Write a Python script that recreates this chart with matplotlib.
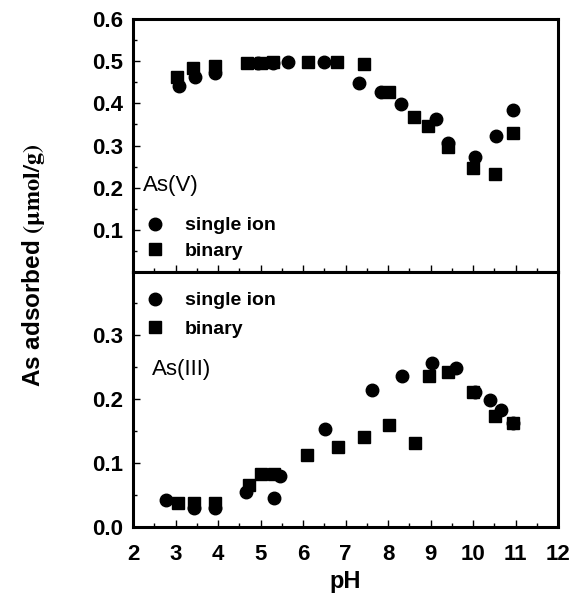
import numpy as np
import matplotlib
matplotlib.use("Agg")
from matplotlib import pyplot as plt
from matplotlib.ticker import MultipleLocator

plt.rcParams['font.family'] = ['Liberation Sans', 'DejaVu Sans']
plt.rcParams['mathtext.fontset'] = 'stix'

# As(V) panel
asv_single_ph = [3.09, 3.47, 3.94, 4.95, 5.3, 5.64, 6.49, 7.32, 7.84, 8.31, 9.14, 9.4, 10.04, 10.53, 10.93]
asv_single_q = [0.441, 0.463, 0.473, 0.496, 0.496, 0.498, 0.497, 0.448, 0.427, 0.398, 0.363, 0.305, 0.273, 0.323, 0.384]
asv_binary_ph = [3.03, 3.42, 3.94, 4.69, 5.0, 5.29, 6.11, 6.8, 7.44, 8.03, 8.62, 8.95, 9.4, 9.99, 10.51, 10.93]
asv_binary_q = [0.463, 0.484, 0.489, 0.495, 0.496, 0.497, 0.498, 0.497, 0.493, 0.427, 0.368, 0.346, 0.297, 0.247, 0.232, 0.33]

# As(III) panel
as3_single_ph = [2.78, 3.44, 3.94, 4.67, 5.31, 5.47, 6.52, 7.62, 8.34, 9.04, 9.61, 10.05, 10.39, 10.65, 10.94]
as3_single_q = [0.042, 0.03, 0.03, 0.055, 0.045, 0.08, 0.153, 0.214, 0.235, 0.256, 0.248, 0.21, 0.198, 0.183, 0.163]
as3_binary_ph = [3.06, 3.44, 3.94, 4.72, 5.0, 5.31, 6.1, 6.83, 7.44, 8.03, 8.64, 8.97, 9.4, 10.01, 10.51, 10.94]
as3_binary_q = [0.037, 0.037, 0.038, 0.066, 0.083, 0.083, 0.112, 0.125, 0.14, 0.159, 0.131, 0.236, 0.242, 0.211, 0.173, 0.163]

x_ticks = list(range(2, 13))
top_yticks = [0.1, 0.2, 0.3, 0.4, 0.5, 0.6]
bot_yticks = [0.0, 0.1, 0.2, 0.3]

fig = plt.figure(figsize=(5.74, 5.96), dpi=100)
ax_top = fig.add_axes([0.2317, 0.5436, 0.7405, 0.4244])
ax_bot = fig.add_axes([0.2317, 0.1158, 0.7405, 0.4278])


def style_axis(ax):
    for sp in ax.spines.values():
        sp.set_linewidth(2.2)
    ax.set_xlim(2, 12)
    ax.set_xticks(x_ticks)
    ax.xaxis.set_minor_locator(MultipleLocator(0.5))
    ax.yaxis.set_minor_locator(MultipleLocator(0.05))
    ax.tick_params(which='both', direction='in', top=False, right=False, width=1)
    ax.tick_params(which='major', length=5, labelsize=16)
    ax.tick_params(axis='x', which='major', pad=12)
    ax.tick_params(axis='y', which='major', pad=7)
    ax.tick_params(which='minor', length=3)
    for lab in ax.get_xticklabels() + ax.get_yticklabels():
        lab.set_fontweight('bold')


ax_top.plot(asv_single_ph, asv_single_q, 'o', color='black', markersize=9, label='single ion')
ax_top.plot(asv_binary_ph, asv_binary_q, 's', color='black', markersize=8.5, label='binary')
ax_top.set_ylim(0, 0.6)
ax_top.set_yticks(top_yticks)
style_axis(ax_top)
ax_top.tick_params(labelbottom=False)
ax_top.text(0.024, 0.344, 'As(V)', transform=ax_top.transAxes, fontsize=16, va='center', ha='left')
ax_top.legend(loc='center left', bbox_to_anchor=(0.029, 0.1325), frameon=False,
              prop={'size': 14, 'weight': 'bold'}, handlelength=1, handletextpad=1.05,
              labelspacing=0.42, borderpad=0, borderaxespad=0)

ax_bot.plot(as3_single_ph, as3_single_q, 'o', color='black', markersize=9, label='single ion')
ax_bot.plot(as3_binary_ph, as3_binary_q, 's', color='black', markersize=8.5, label='binary')
ax_bot.set_ylim(0, 0.398)
ax_bot.set_yticks(bot_yticks)
style_axis(ax_bot)
ax_bot.text(0.045, 0.616, 'As(III)', transform=ax_bot.transAxes, fontsize=16, va='center', ha='left')
ax_bot.legend(loc='center left', bbox_to_anchor=(0.029, 0.8315), frameon=False,
              prop={'size': 14, 'weight': 'bold'}, handlelength=1, handletextpad=1.05,
              labelspacing=0.58, borderpad=0, borderaxespad=0)
ax_bot.set_xlabel('pH', fontsize=17, fontweight='bold', labelpad=4)

fig.text(0.058, 0.555, r'As adsorbed $\mathbf{(\mu mol/g)}$', rotation=90,
         fontsize=17.5, fontweight='bold', ha='center', va='center')

fig.savefig('out.png', dpi=100)
